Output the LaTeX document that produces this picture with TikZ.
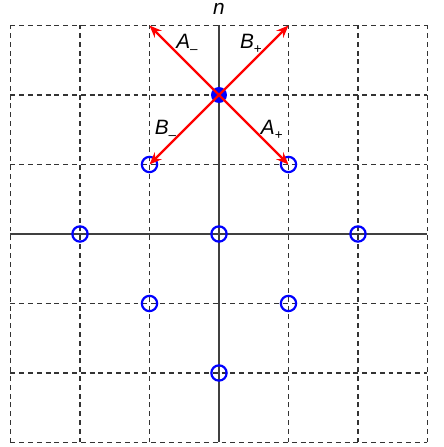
\documentclass[tikz,border=0pt]{standalone}
\usepackage{fontspec}
\setmainfont{Liberation Sans}
\usetikzlibrary{arrows.meta,positioning,calc}

\tikzset{
  site/.style={circle, draw=blue, line width=0.9pt, minimum size=0.22cm, inner sep=0pt},
  hop/.style={-{Stealth[length=5pt,width=4pt]}, red, line width=0.9pt},
  lbl/.style={font=\fontsize{8.5}{10}\selectfont\itshape, inner sep=1pt}
}
\newcommand{\opsub}[2]{#1\raisebox{-0.45ex}{\fontsize{5.5}{6}\selectfont\upshape #2}}

\begin{document}
\begin{tikzpicture}[x=1cm, y=1cm, >=Stealth]
        \useasboundingbox (-3.151,-3.065) rectangle (3.237,3.367);
        \foreach \k in {-3,-2,-1,1,2,3}
          {\draw[black!80, line width=0.45pt, dash pattern=on 2pt off 1.6pt] (\k,-3) -- (\k,3);
           \draw[black!80, line width=0.45pt, dash pattern=on 2pt off 1.6pt] (-3,\k) -- (3,\k);}
        \draw[black!75, line width=0.6pt] (-3,0) -- (3,0);
        \draw[black!75, line width=0.6pt] (0,-3) -- (0,3);
        \node[lbl] (nlab) at (0,3.24) {n};
        % lattice sites
        \foreach \x/\y/\n in {-1/1/ul, 1/1/ur, -2/0/l, 0/0/o, 2/0/r, -1/-1/dl, 1/-1/dr, 0/-2/d}
          {\node[site] (s\n) at (\x,\y) {};}
        \node[circle, fill=blue, minimum size=0.23cm, inner sep=0pt] (c) at (0,2) {};
        \coordinate (tl) at (-1,3);
        \coordinate (tr) at (1,3);
        \draw[hop] (c.center) -- (tl);
        \draw[hop] (c.center) -- (tr);
        \draw[hop] (c.center) -- (sul.center);
        \draw[hop] (c.center) -- (sur.center);
        \node[lbl] (am) at (-0.46,2.74) {\opsub{A}{--}};
        \node[lbl] (bp) at (0.46,2.74) {\opsub{B}{+}};
        \node[lbl] (bm) at (-0.77,1.5) {\opsub{B}{--}};
        \node[lbl] (ap) at (0.76,1.5) {\opsub{A}{+}};
      \end{tikzpicture}
\end{document}
